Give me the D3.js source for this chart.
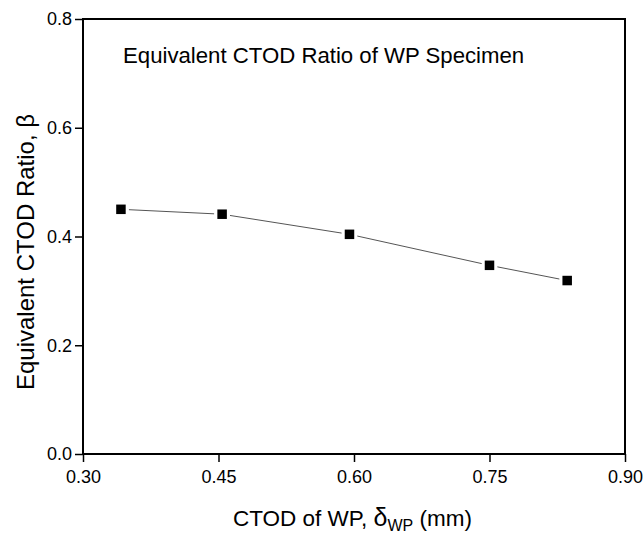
<!DOCTYPE html>
<html>
<head>
<meta charset="utf-8">
<script src="https://cdn.jsdelivr.net/npm/d3@7"></script>
<style>
  body { margin: 0; background: #fff; }
  text { font-family: Arial, "Liberation Sans", sans-serif; fill: #000; }
</style>
</head>
<body>
<div id="chart"></div>
<script>
// data
const ctodWP = [0.342, 0.454, 0.595, 0.750, 0.836];
const beta = [0.450, 0.441, 0.404, 0.347, 0.319];
const xTicks = [0.30, 0.45, 0.60, 0.75, 0.90];
const yTicks = [0.0, 0.2, 0.4, 0.6, 0.8];

const width = 643, height = 534;
const margin = {left: 83, right: 18, top: 19, bottom: 80};

const svg = d3.select('#chart').append('svg')
    .attr('width', width)
    .attr('height', height);

const x = d3.scaleLinear().domain([0.30, 0.90]).range([margin.left, width - margin.right]);
const y = d3.scaleLinear().domain([0, 0.8]).range([height - margin.bottom, margin.top]);

// minor ticks halfway between majors
const xMinor = d3.range(0.375, 0.9, 0.15);
const yMinor = d3.range(0.1, 0.8, 0.2);

const gx = svg.append('g').attr('transform', `translate(0,${y(0)})`);
gx.call(d3.axisBottom(x).tickValues(xMinor).tickSize(5).tickFormat(''));
gx.call(d3.axisBottom(x).tickValues(xTicks).tickSize(8).tickPadding(8).tickFormat(d3.format('.2f')));

const gy = svg.append('g').attr('transform', `translate(${x(0.30)},0)`);
gy.call(d3.axisLeft(y).tickValues(yMinor).tickSize(5).tickFormat(''));
gy.call(d3.axisLeft(y).tickValues(yTicks).tickSize(8).tickPadding(3).tickFormat(d3.format('.1f')));

svg.selectAll('.domain').remove();
svg.selectAll('.tick line').attr('stroke', '#000').attr('stroke-width', 1.5);
svg.selectAll('.tick text').style('font-size', '18px');

// frame
svg.append('rect')
    .attr('x', x(0.30)).attr('y', y(0.8))
    .attr('width', x(0.90) - x(0.30)).attr('height', y(0) - y(0.8))
    .attr('fill', 'none').attr('stroke', '#000').attr('stroke-width', 2);

// connecting line, drawn with gaps around the markers
const pts = ctodWP.map((d, i) => [x(d), y(beta[i])]);
const gap = 8;
for (let i = 0; i < pts.length - 1; i++) {
  const [x0, y0] = pts[i], [x1, y1] = pts[i + 1];
  const len = Math.hypot(x1 - x0, y1 - y0);
  const ux = (x1 - x0) / len, uy = (y1 - y0) / len;
  svg.append('line')
      .attr('x1', x0 + ux * gap).attr('y1', y0 + uy * gap)
      .attr('x2', x1 - ux * gap).attr('y2', y1 - uy * gap)
      .attr('stroke', '#555').attr('stroke-width', 1);
}

svg.selectAll('rect.pt')
    .data(ctodWP)
    .join('rect')
    .attr('class', 'pt')
    .attr('x', (d, i) => x(d) - 4.75)
    .attr('y', (d, i) => y(beta[i]) - 4.75)
    .attr('width', 9.5).attr('height', 9.5)
    .attr('fill', '#000');

// in-plot title
svg.append('text')
    .attr('x', 123).attr('y', 63)
    .style('font-size', '22.2px')
    .text('Equivalent CTOD Ratio of WP Specimen');

// x axis title
const xt = svg.append('text')
    .attr('x', 233).attr('y', 526)
    .style('font-size', '22.5px');
xt.append('tspan').text('CTOD of WP, ');
xt.append('tspan').text('δ').style('font-size', '25px');
xt.append('tspan').text('WP').attr('dy', 5).style('font-size', '16px');
xt.append('tspan').text(' (mm)').attr('dy', -5);

// y axis title
svg.append('text')
    .attr('transform', `translate(34,252) rotate(-90)`)
    .attr('text-anchor', 'middle')
    .style('font-size', '24px')
    .text('Equivalent CTOD Ratio, β');
</script>
</body>
</html>
